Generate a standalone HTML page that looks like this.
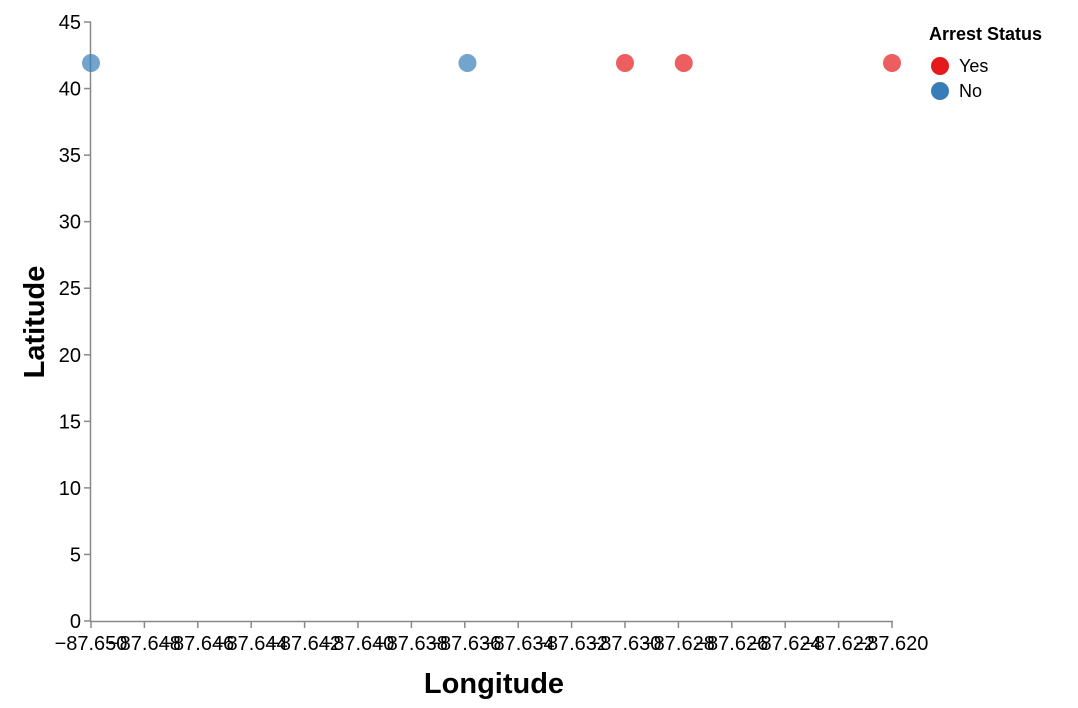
<!DOCTYPE html>
<html><head><meta charset="utf-8"><style>
body{margin:0;background:#fff;}
svg{display:block;font-family:"Liberation Sans",Arial,sans-serif;}
</style></head><body>
<svg id="chart" width="1078" height="708"></svg>
<script>
const longitudes=[-87.650,-87.6359,-87.630,-87.6278,-87.620];
const latitudes=[41.92,41.92,41.92,41.92,41.92];
const arrests=["No","No","Yes","Yes","Yes"];
const xTicks=[-87.650,-87.648,-87.646,-87.644,-87.642,-87.640,-87.638,-87.636,-87.634,-87.632,-87.630,-87.628,-87.626,-87.624,-87.622,-87.620];
const yTicks=[0,5,10,15,20,25,30,35,40,45];
const legendLabels=["Yes","No"];
const colors={Yes:"#e41a1c",No:"#377eb8"};
const NS="http://www.w3.org/2000/svg";
const svg=document.getElementById('chart');
const X0=91,X1=892,Y0=621,Y1=22;
const xs=v=>X0+(v+87.650)/0.030*(X1-X0);
const ys=v=>Y0-v/45*(Y0-Y1);
function mk(t,a,p){const e=document.createElementNS(NS,t);for(const k in a)e.setAttribute(k,a[k]);(p||svg).appendChild(e);return e;}
const xa=mk('g',{});


mk('line',{x1:X0,x2:X1+1,y1:Y0+0.5,y2:Y0+0.5,stroke:'#888','stroke-width':1.5},xa);
xTicks.forEach(t=>{const x=xs(t);mk('line',{x1:x,x2:x,y1:Y0,y2:Y0+7,stroke:'#888','stroke-width':1.5},xa);
const tx=mk('text',{x:x,y:Y0+29,'text-anchor':'middle','font-size':20,fill:'#000'},xa);tx.textContent=t.toFixed(3).replace('-','−');

});
const xt=mk('text',{x:494,y:693,'text-anchor':'middle','font-size':29,'font-weight':'bold'});xt.textContent='Longitude';


const ya=mk('g',{});


mk('line',{x1:X0-0.5,x2:X0-0.5,y1:Y1,y2:Y0,stroke:'#888','stroke-width':1.5},ya);
yTicks.forEach(t=>{const y=ys(t);mk('line',{x1:X0-7,x2:X0,y1:y,y2:y,stroke:'#888','stroke-width':1.5},ya);
const tx=mk('text',{x:X0-10,y:y+7,'text-anchor':'end','font-size':20},ya);tx.textContent=t;

});
const yt=mk('text',{x:0,y:0,transform:'translate(44,322) rotate(-90)','text-anchor':'middle','font-size':29,'font-weight':'bold'});yt.textContent='Latitude';


longitudes.forEach((lo,i)=>{const c=mk('circle',{cx:xs(lo),cy:ys(latitudes[i]),r:9,fill:colors[arrests[i]],'fill-opacity':0.7});

});
const lg=mk('g',{});


const lt=mk('text',{x:929,y:40,'font-size':18,'font-weight':'bold'},lg);lt.textContent='Arrest Status';
legendLabels.forEach((l,i)=>{const g=mk('g',{},lg);


mk('circle',{cx:940,cy:66+i*25,r:9,fill:colors[l]},g);
const t=mk('text',{x:959,y:72+i*25,'font-size':18},g);t.textContent=l;});
</script>
</body></html>
